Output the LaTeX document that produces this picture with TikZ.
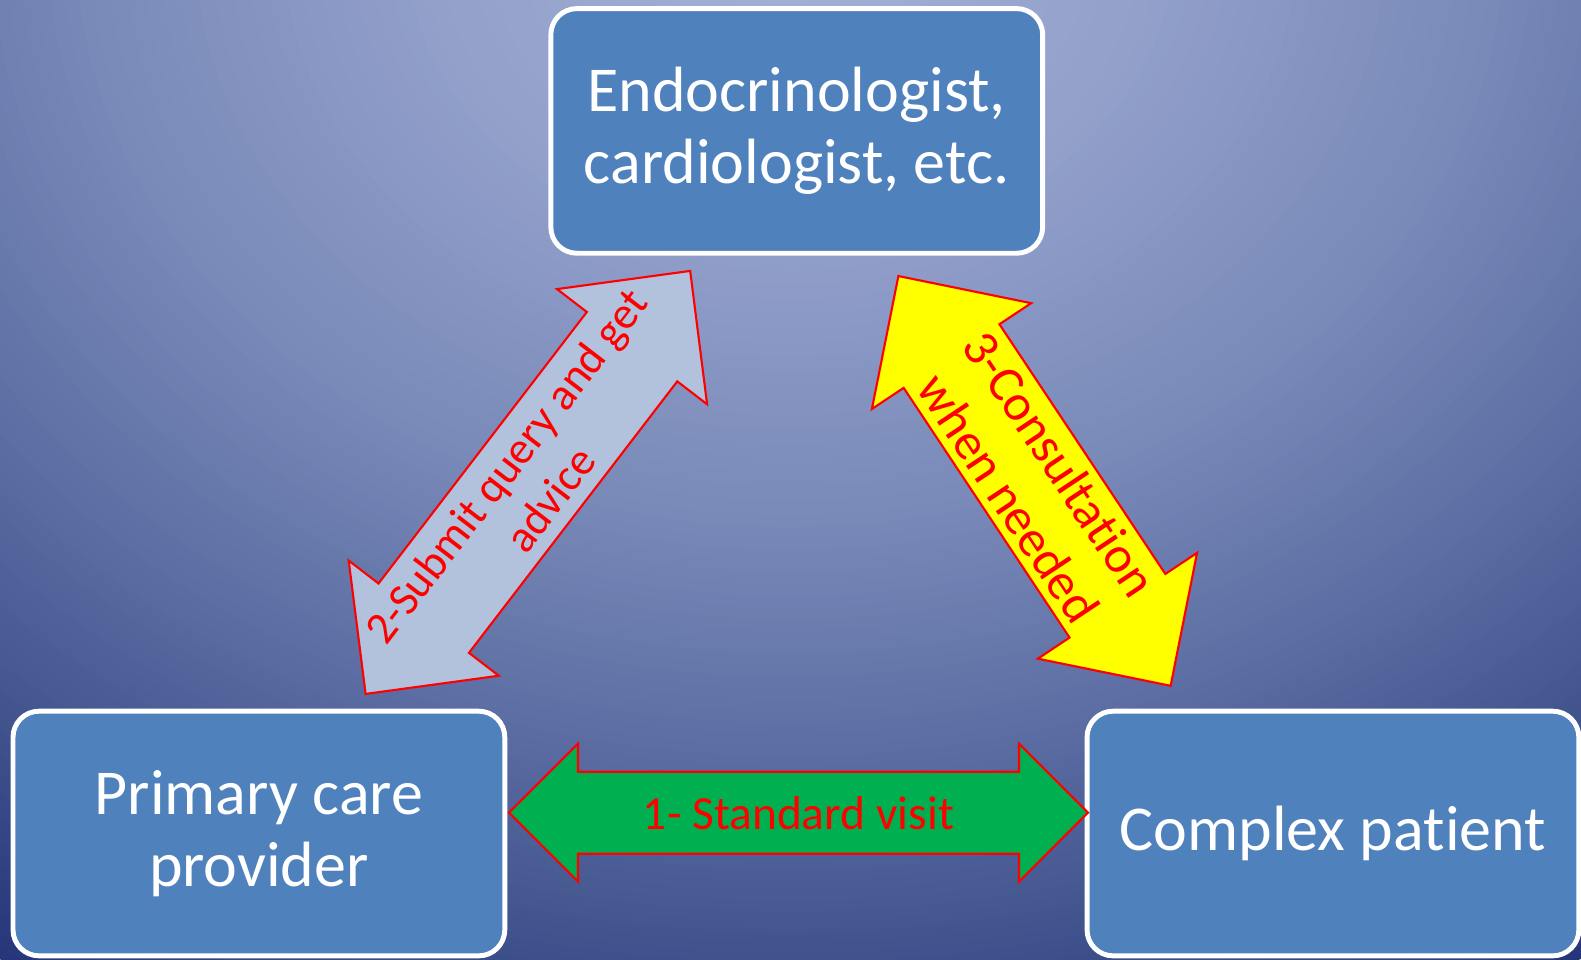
\documentclass[tikz,border=0pt]{standalone}
\usepackage{fontspec}
\setmainfont{Carlito}[Ligatures=NoCommon]
\usepackage{xcolor}
\usepackage{tikz}
\usetikzlibrary{positioning,calc}

\definecolor{boxblue}{RGB}{79,129,189}
\definecolor{queryblue}{RGB}{178,193,220}
\definecolor{visitgreen}{RGB}{0,176,80}
\definecolor{consultyellow}{RGB}{255,255,0}
\definecolor{labelred}{RGB}{255,0,0}
\definecolor{bgA}{HTML}{A4B1D6}
\definecolor{bgB}{HTML}{93A1CB}
\definecolor{bgC}{HTML}{7A8AB9}
\definecolor{bgD}{HTML}{5D6FA4}
\definecolor{bgE}{HTML}{42548E}
\definecolor{bgF}{HTML}{26367A}

\tikzset{
  role/.style={draw=white, line width=1.4pt, fill=boxblue, rounded corners=0.26cm,
    minimum width=4.915cm, minimum height=2.445cm, text=white, align=center,
    font=\fontsize{18.2}{20.5}\selectfont},
  blockarrow/.style={draw=labelred, line width=0.6pt},
  arrowtext/.style={text=labelred, align=center}
}

\begin{document}
\begin{tikzpicture}[x=0.01cm, y=-0.01cm]
            \useasboundingbox (0,0) rectangle (1581,959);
            \fill[bgF] (0,0) rectangle (1581,959);
            \begin{scope}
                \clip (0,0) rectangle (1581,959);
                \foreach \ca/\cb/\ra/\rb in {bgF/bgE/1.05/0.88, bgE/bgD/0.88/0.70, bgD/bgC/0.70/0.50, bgC/bgB/0.50/0.25, bgB/bgA/0.25/0.02}
                    \foreach \t in {0,5,...,95} {
                        \pgfmathsetmacro\rx{(\ra-(\ra-\rb)*\t/100)*14}
                        \pgfmathsetmacro\ry{(\ra-(\ra-\rb)*\t/100)*11.5}
                        \fill[\cb!\t!\ca] (790,-60) ellipse [x radius=\rx cm, y radius=\ry cm];
                    }
            \end{scope}

            \node[role] (spec) at (796.75,130.9) {Endocrinologist,\\cardiologist, etc.};
            \node[role] (pcp) at (258.9,833.5) {Primary care\\provider};
            \node[role, right=5.77cm of pcp] (patient) {Complex patient};

            \begin{scope}[shift={(798.5,812.7)}]
                \draw[blockarrow, fill=visitgreen] (-289.5,0) -- (-220.5,-69) -- (-220.5,-41)
                    -- (220.5,-41) -- (220.5,-69) -- (289.5,0) -- (220.5,69) -- (220.5,41)
                    -- (-220.5,41) -- (-220.5,69) -- cycle;
                \node[arrowtext, font=\fontsize{13.5}{16.2}\selectfont] (visit) at (0,0) {1- Standard visit};
            \end{scope}

            \begin{scope}[shift={(527.9,482.4)}, rotate=52.5]
                \draw[blockarrow, fill=queryblue] (-266.6,0) -- (-171.1,-94.6) -- (-171.1,-57)
                    -- (171.1,-57) -- (171.1,-94.6) -- (266.6,0) -- (171.1,94.6) -- (171.1,57)
                    -- (-171.1,57) -- (-171.1,94.6) -- cycle;
                \node[arrowtext, rotate=52.5, font=\fontsize{12.9}{15.6}\selectfont] (query) at (0,0) {2-Submit query and get\\advice};
            \end{scope}

            \begin{scope}[shift={(1034.5,480.9)}, rotate=-56.4]
                \draw[blockarrow, fill=consultyellow] (-246,0) -- (-149.9,-95.6) -- (-149.9,-57.5)
                    -- (149.9,-57.5) -- (149.9,-95.6) -- (246,0) -- (149.9,95.6) -- (149.9,57.5)
                    -- (-149.9,57.5) -- (-149.9,95.6) -- cycle;
                \node[arrowtext, rotate=-56.4, font=\fontsize{14.6}{17.6}\selectfont] (consult) at (0,0) {3-Consultation\\when needed};
            \end{scope}
        \end{tikzpicture}
\end{document}
